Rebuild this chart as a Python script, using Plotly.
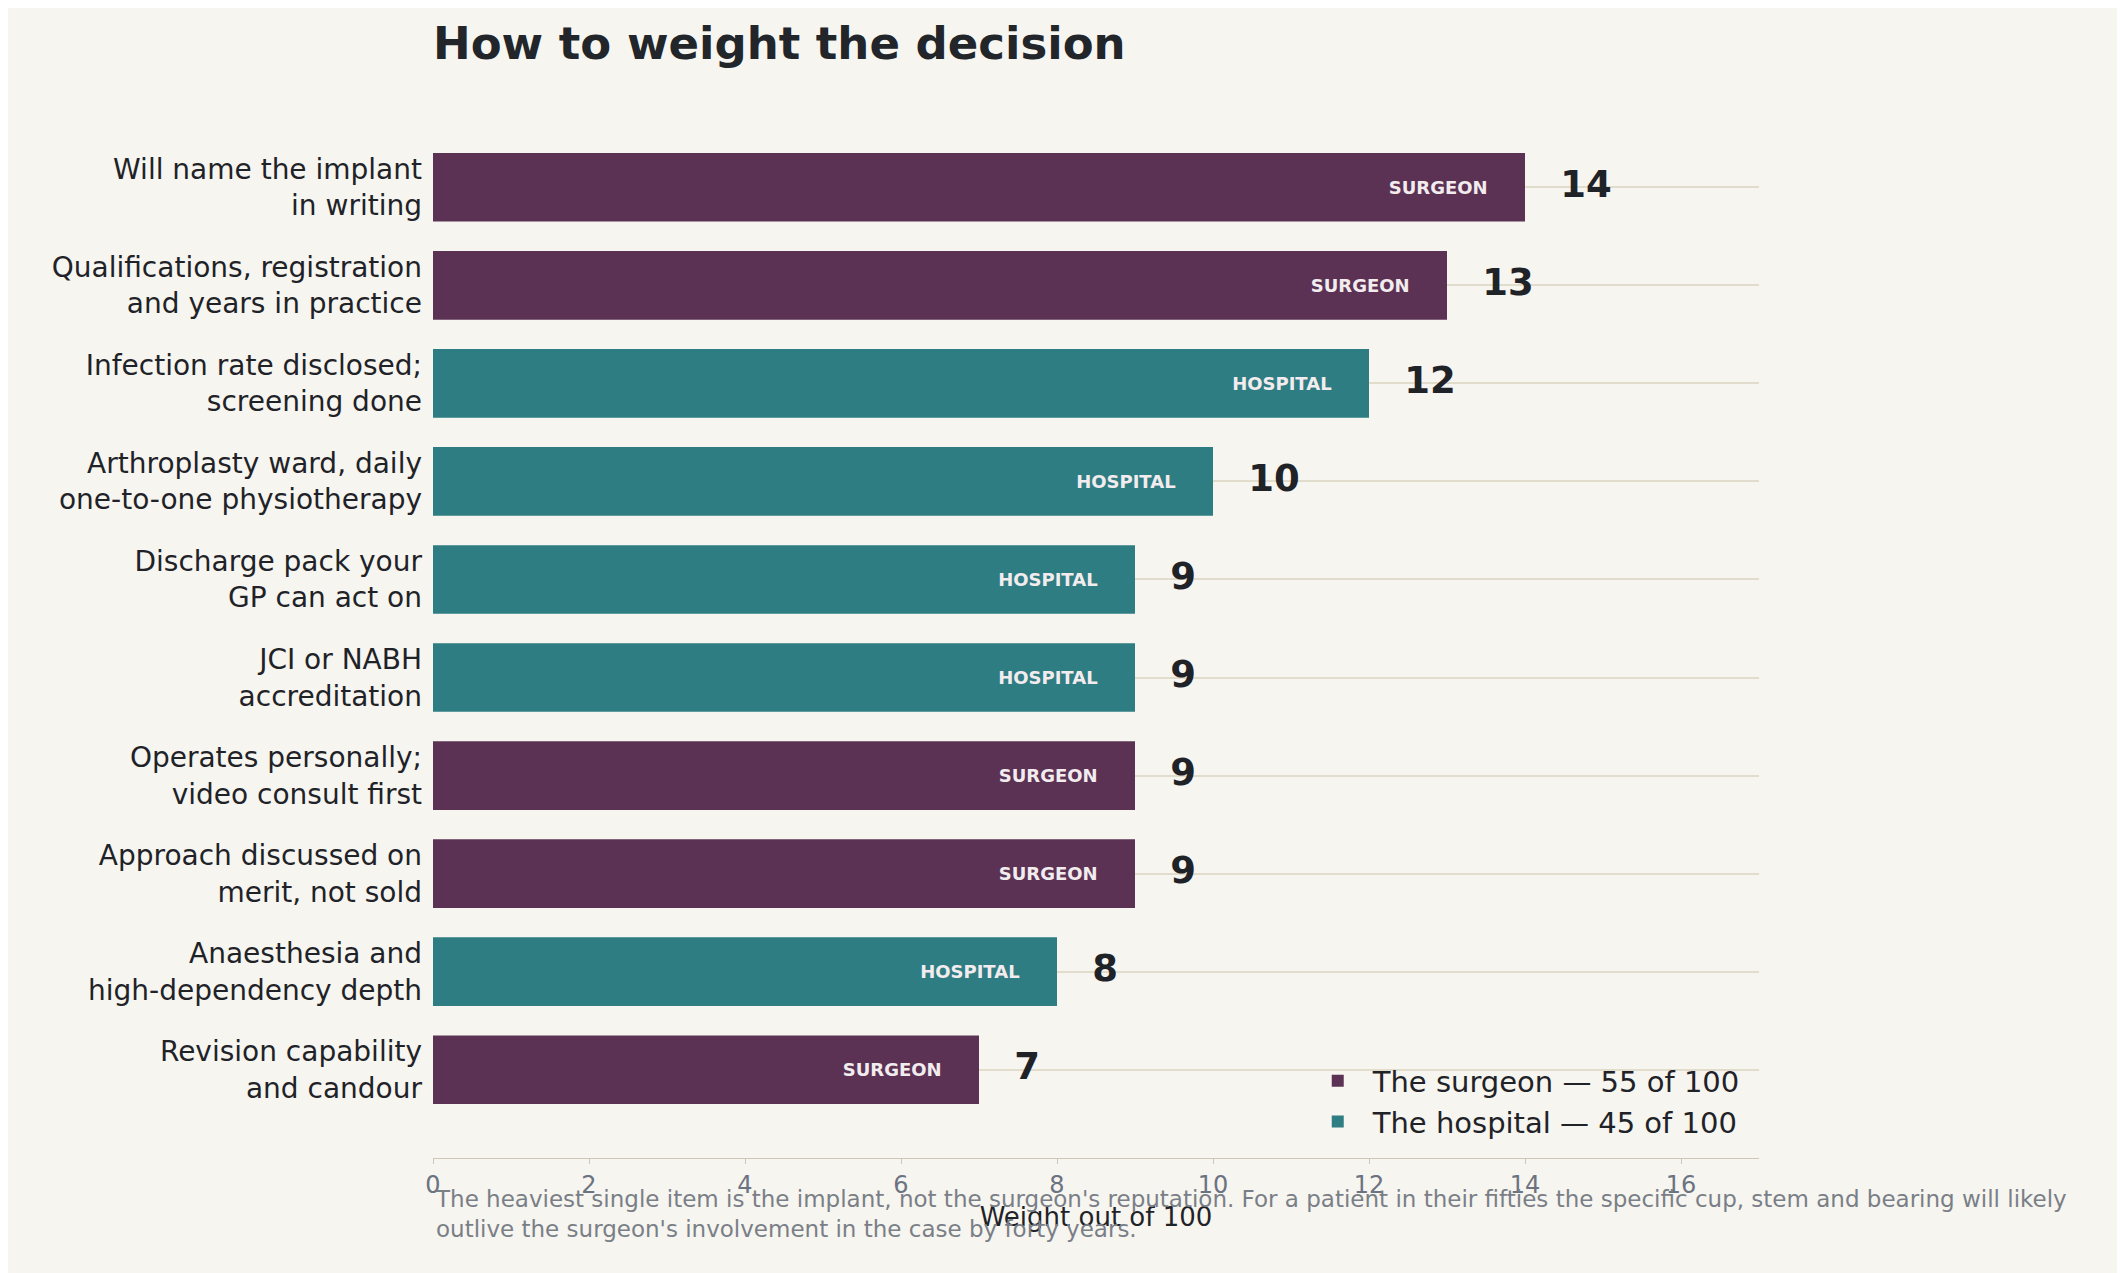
import plotly.graph_objects as go

labels = ["Will name the implant<br>in writing", "Qualifications, registration<br>and years in practice",
          "Infection rate disclosed;<br>screening done", "Arthroplasty ward, daily<br>one-to-one physiotherapy",
          "Discharge pack your<br>GP can act on", "JCI or NABH<br>accreditation",
          "Operates personally;<br>video consult first", "Approach discussed on<br>merit, not sold",
          "Anaesthesia and<br>high-dependency depth", "Revision capability<br>and candour"]
weights = [14, 13, 12, 10, 9, 9, 9, 9, 8, 7]
owner = ["SURGEON", "SURGEON", "HOSPITAL", "HOSPITAL", "HOSPITAL", "HOSPITAL",
         "SURGEON", "SURGEON", "HOSPITAL", "SURGEON"]
colors = {"SURGEON": "#5b3254", "HOSPITAL": "#2e7d82"}
names = {"SURGEON": "The surgeon — 55 of 100", "HOSPITAL": "The hospital — 45 of 100"}

fig = go.Figure()
pos = list(range(len(labels)))
for grp in ["SURGEON", "HOSPITAL"]:
    idx = [i for i in pos if owner[i] == grp]
    fig.add_trace(go.Bar(
        y=idx, x=[weights[i] for i in idx], orientation="h", width=0.7,
        marker=dict(color=colors[grp], line=dict(width=0)), name=names[grp],
        text=[grp] * len(idx), textposition="inside", insidetextanchor="end",
        textfont=dict(color="#f3ecef", size=18, family="DejaVu Sans"),
        texttemplate="<b>%{text}</b>      ", hoverinfo="skip"))

# value labels
fig.add_trace(go.Scatter(
    y=pos, x=weights, mode="text", text=[f"   <b>{w}</b>" for w in weights],
    textposition="middle right", showlegend=False,
    textfont=dict(size=37, color="#1f2328", family="DejaVu Sans"), hoverinfo="skip"))

fig.update_layout(
    width=2125, height=1273, paper_bgcolor="#f6f5f0", plot_bgcolor="#f6f5f0",
    margin=dict(l=425, r=374, t=91, b=123),
    font=dict(family="DejaVu Sans", color="#1f2328"),
    title=dict(text="<b>How to weight the decision</b>", x=425/2125, xanchor="left",
               y=0.985, yanchor="top", font=dict(size=45, color="#22262b")),
    barmode="overlay",
    legend=dict(x=0.99, y=0.01, xanchor="right", yanchor="bottom", bgcolor="rgba(0,0,0,0)",
                font=dict(size=29), itemwidth=60),
    xaxis=dict(range=[0, 17], tickvals=list(range(0, 17, 2)), showgrid=False, zeroline=False,
               showline=True, linecolor="#cfc6b6", ticks="outside", tickcolor="#cfc6b6",
               tickfont=dict(size=24, color="#6b7280"),
               title=dict(text="Weight out of 100", font=dict(size=26, color="#1f2328"), standoff=10)),
    yaxis=dict(range=[9.9, -0.9], tickvals=pos, ticktext=labels, showgrid=True,
               gridcolor="#e2dccd", gridwidth=2, zeroline=False, showline=False,
               tickfont=dict(size=28, color="#1f2328"), ticks="", ticklabelstandoff=10),
)
fig.add_annotation(
    text="The heaviest single item is the implant, not the surgeon's reputation. For a patient in their fifties the specific cup, stem and bearing will likely<br>outlive the surgeon's involvement in the case by forty years.",
    xref="paper", yref="paper", x=0, y=-0.025, xanchor="left", yanchor="top", align="left",
    showarrow=False, font=dict(size=23, color="#7a7f87"))

fig.write_html("out.html")
